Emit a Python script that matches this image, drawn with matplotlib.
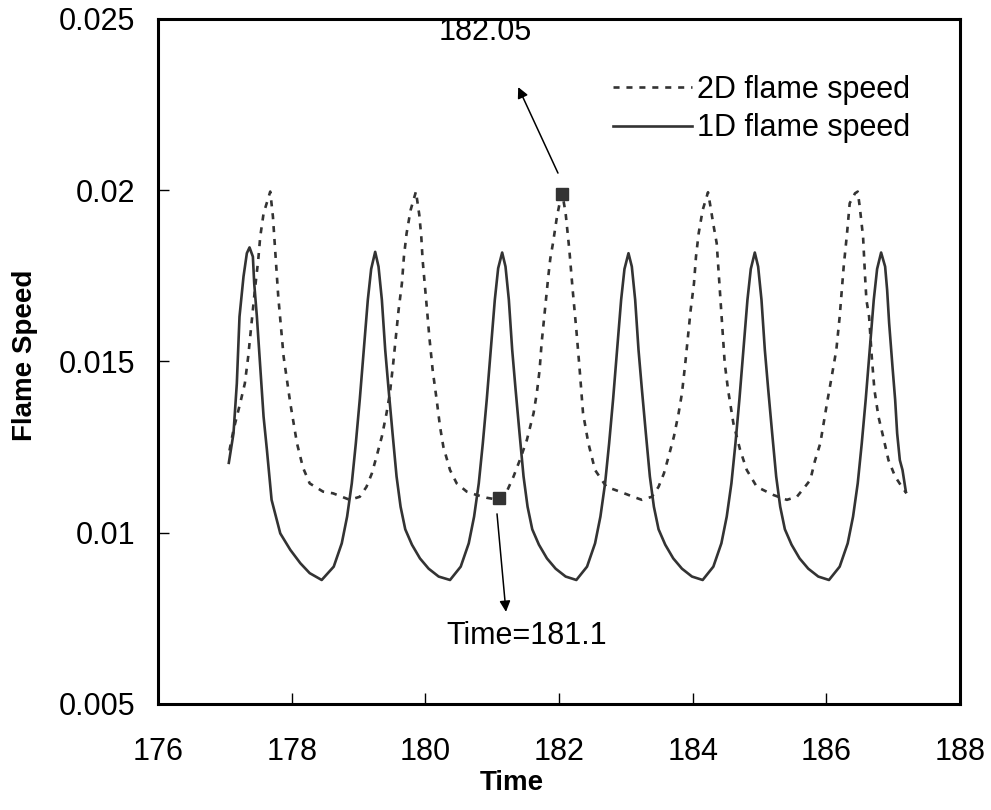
"""
plot.py
-------
Flame speed history: 2D flame speed against the 1D flame speed,
with the 2D peak and trough times marked.

Writes out.png.
"""

import matplotlib
matplotlib.use("Agg")
import matplotlib.pyplot as plt
from matplotlib.ticker import FuncFormatter

plt.rcParams["font.family"] = ["Liberation Sans", "DejaVu Sans"]

LINE_COLOR = "#333333"

# 1D flame speed
time_1d = [
    177.06, 177.13, 177.18, 177.22, 177.28, 177.33, 177.37,
    177.42, 177.44, 177.48, 177.53, 177.58, 177.63, 177.70, 177.83, 177.98, 178.13, 178.27, 178.45,
    178.63, 178.75, 178.83, 178.90, 178.96, 179.02, 179.08, 179.14, 179.19, 179.25,
    179.30, 179.35, 179.40, 179.45, 179.51, 179.57, 179.63, 179.70, 179.80, 179.92, 180.05, 180.20, 180.37,
    180.53, 180.65, 180.73, 180.80, 180.86, 180.92, 180.98, 181.04, 181.09, 181.15,
    181.20, 181.25, 181.30, 181.35, 181.41, 181.47, 181.53, 181.60, 181.70, 181.82, 181.95, 182.10, 182.26,
    182.42, 182.54, 182.62, 182.69, 182.75, 182.81, 182.87, 182.93, 182.98, 183.04,
    183.09, 183.14, 183.19, 183.24, 183.30, 183.36, 183.42, 183.49, 183.59, 183.71, 183.84, 183.99, 184.15,
    184.31, 184.43, 184.51, 184.58, 184.64, 184.70, 184.76, 184.82, 184.87, 184.93,
    184.98, 185.03, 185.08, 185.13, 185.19, 185.25, 185.31, 185.38, 185.48, 185.60, 185.73, 185.88, 186.04,
    186.20, 186.32, 186.40, 186.47, 186.53, 186.59, 186.65, 186.71, 186.76, 186.82,
    186.88, 186.91, 186.94, 186.99, 187.03, 187.06, 187.10, 187.14, 187.19,
]
speed_1d = [
    0.01204, 0.01290, 0.01436, 0.01631, 0.01748, 0.01816, 0.01833,
    0.01806, 0.01728, 0.01631, 0.01485, 0.01339, 0.01242, 0.01096, 0.00998, 0.00950, 0.00911, 0.00882, 0.00862,
    0.00901, 0.00969, 0.01047, 0.01144, 0.01260, 0.01390, 0.01534, 0.01680, 0.01770, 0.01820,
    0.01777, 0.01680, 0.01534, 0.01420, 0.01290, 0.01164, 0.01076, 0.01010, 0.00965, 0.00925, 0.00895, 0.00872, 0.00862,
    0.00901, 0.00969, 0.01047, 0.01144, 0.01260, 0.01390, 0.01534, 0.01680, 0.01772, 0.01818,
    0.01777, 0.01680, 0.01534, 0.01420, 0.01290, 0.01164, 0.01076, 0.01010, 0.00965, 0.00925, 0.00895, 0.00872, 0.00862,
    0.00901, 0.00969, 0.01047, 0.01144, 0.01260, 0.01390, 0.01534, 0.01680, 0.01770, 0.01816,
    0.01777, 0.01680, 0.01534, 0.01420, 0.01290, 0.01164, 0.01076, 0.01010, 0.00965, 0.00925, 0.00895, 0.00872, 0.00862,
    0.00901, 0.00969, 0.01047, 0.01144, 0.01260, 0.01390, 0.01534, 0.01680, 0.01770, 0.01818,
    0.01777, 0.01680, 0.01534, 0.01420, 0.01290, 0.01164, 0.01076, 0.01010, 0.00965, 0.00925, 0.00895, 0.00872, 0.00862,
    0.00901, 0.00969, 0.01047, 0.01144, 0.01260, 0.01390, 0.01534, 0.01680, 0.01770, 0.01818,
    0.01777, 0.01709, 0.01612, 0.01485, 0.01388, 0.01290, 0.01212, 0.01183, 0.01120,
]

# 2D flame speed
time_2d = [
    177.07, 177.13, 177.23, 177.30, 177.35, 177.40, 177.45, 177.50, 177.53, 177.58, 177.68,
    177.72, 177.76, 177.80, 177.88, 177.98, 178.08, 178.17, 178.27, 178.47, 178.62, 178.87,
    179.02, 179.12, 179.20, 179.27, 179.35, 179.42, 179.47, 179.52, 179.56, 179.60, 179.65, 179.68, 179.72, 179.78, 179.86,
    179.91, 179.94, 179.96, 180.00, 180.03, 180.06, 180.11, 180.17, 180.22, 180.27, 180.37, 180.47, 180.62, 180.77, 180.92, 181.07,
    181.20, 181.32, 181.42, 181.52, 181.62, 181.67, 181.71, 181.74, 181.79, 181.84, 181.87, 181.91, 181.97, 182.01, 182.05,
    182.10, 182.155, 182.205, 182.26, 182.31, 182.36, 182.44, 182.54, 182.71, 182.91, 183.11, 183.24,
    183.39, 183.49, 183.57, 183.64, 183.72, 183.79, 183.84, 183.89, 183.93, 183.97, 184.02, 184.05, 184.09, 184.15, 184.23,
    184.26, 184.31, 184.36, 184.40, 184.44, 184.48, 184.53, 184.61, 184.71, 184.81, 184.96, 185.21, 185.41,
    185.56, 185.68, 185.76, 185.83, 185.91, 186.01, 186.08, 186.15, 186.20, 186.26, 186.31, 186.35, 186.43, 186.47,
    186.50, 186.55, 186.58, 186.60, 186.64, 186.68, 186.72, 186.78, 186.85, 186.93, 187.03, 187.13, 187.20,
]
speed_2d = [
    0.01240, 0.01300, 0.01378, 0.01436, 0.01514, 0.01612, 0.01709, 0.01796, 0.01864, 0.01932, 0.01996,
    0.01923, 0.01806, 0.01689, 0.01514, 0.01378, 0.01261, 0.01190, 0.01144, 0.01120, 0.01115, 0.01096,
    0.01105, 0.01134, 0.01173, 0.01222, 0.01281, 0.01349, 0.01407, 0.01495, 0.01572, 0.01650, 0.01728, 0.01806, 0.01874, 0.01942, 0.01996,
    0.01928, 0.01864, 0.01796, 0.01709, 0.01641, 0.01572, 0.01475, 0.01388, 0.01310, 0.01251, 0.01183, 0.01144, 0.01120, 0.01110, 0.01102, 0.01097,
    0.01112, 0.01164, 0.01215, 0.01271, 0.01349, 0.01410, 0.01475, 0.01553, 0.01650, 0.01748, 0.01800, 0.01845, 0.01923, 0.01962, 0.01990,
    0.01932, 0.01826, 0.01709, 0.01592, 0.01475, 0.01349, 0.01261, 0.01183, 0.01134, 0.01120, 0.01105, 0.01096,
    0.01105, 0.01134, 0.01173, 0.01222, 0.01281, 0.01349, 0.01407, 0.01495, 0.01572, 0.01650, 0.01728, 0.01806, 0.01874, 0.01942, 0.01994,
    0.01960, 0.01900, 0.01845, 0.01728, 0.01612, 0.01495, 0.01417, 0.01319, 0.01242, 0.01183, 0.01134, 0.01110, 0.01096,
    0.01105, 0.01134, 0.01154, 0.01210, 0.01261, 0.01378, 0.01455, 0.01534, 0.01631, 0.01777, 0.01874, 0.01962, 0.01991, 0.01996,
    0.01952, 0.01864, 0.01748, 0.01680, 0.01631, 0.01514, 0.01417, 0.01339, 0.01281, 0.01212, 0.01164, 0.01134, 0.01115,
]

# marked points on the 2D curve: peak and trough
mark_time = [182.05, 181.1]
mark_speed = [0.0199, 0.011]
mark_labels = ["182.05", "Time=181.1"]

x_ticks = [176, 178, 180, 182, 184, 186, 188]
y_ticks = [0.005, 0.01, 0.015, 0.02, 0.025]


def main():
    fig = plt.figure(figsize=(9.91, 8.10), dpi=100)
    ax = fig.add_axes([0.1594, 0.1309, 0.8093, 0.8457])

    ax.plot(time_2d, speed_2d, color=LINE_COLOR, lw=1.9,
            linestyle=(0, (2.3, 2.6)), label="2D flame speed")
    ax.plot(time_1d, speed_1d, color=LINE_COLOR, lw=1.9,
            linestyle="-", label="1D flame speed")
    ax.plot(mark_time, mark_speed, linestyle="none", marker="s",
            markersize=8.5, color=LINE_COLOR)

    arrow = dict(arrowstyle="-|>", color="black", lw=1.1,
                 mutation_scale=16, shrinkA=0, shrinkB=0)
    # peak label sits above and to the left of its marker
    ax.annotate("", xy=(181.39, 0.02301), xytext=(181.985, 0.0205),
                arrowprops=arrow)
    ax.text(180.89, 0.02462, mark_labels[0], fontsize=22,
            ha="center", va="center")
    # trough label sits below
    ax.annotate("", xy=(181.207, 0.00769), xytext=(181.073, 0.01055),
                arrowprops=arrow)
    ax.text(181.51, 0.00698, mark_labels[1], fontsize=22,
            ha="center", va="center")

    ax.set_xlim(176, 188)
    ax.set_ylim(0.005, 0.025)
    ax.set_xticks(x_ticks)
    ax.set_yticks(y_ticks)
    ax.yaxis.set_major_formatter(FuncFormatter(lambda v, _: f"{v:g}"))
    ax.tick_params(axis="both", direction="in", length=8, width=1,
                   labelsize=22, colors="black")
    ax.tick_params(axis="x", pad=24)
    ax.tick_params(axis="y", pad=16.5)
    for spine in ax.spines.values():
        spine.set_linewidth(2.2)
        spine.set_color("black")

    ax.set_xlabel("Time", fontsize=20, fontweight="bold")
    ax.set_ylabel("Flame Speed", fontsize=20, fontweight="bold")
    ax.xaxis.label.set_va("center")
    ax.yaxis.label.set_va("center")
    ax.xaxis.set_label_coords(0.441, -0.1153)
    ax.yaxis.set_label_coords(-0.166, 0.509)

    ax.legend(loc="upper left", bbox_to_anchor=(0.567, 0.918),
              frameon=False, fontsize=22, handlelength=2.6,
              handletextpad=0.15, labelspacing=0.27,
              borderpad=0, borderaxespad=0)

    fig.savefig("out.png", dpi=100)
    plt.close(fig)


if __name__ == "__main__":
    main()
